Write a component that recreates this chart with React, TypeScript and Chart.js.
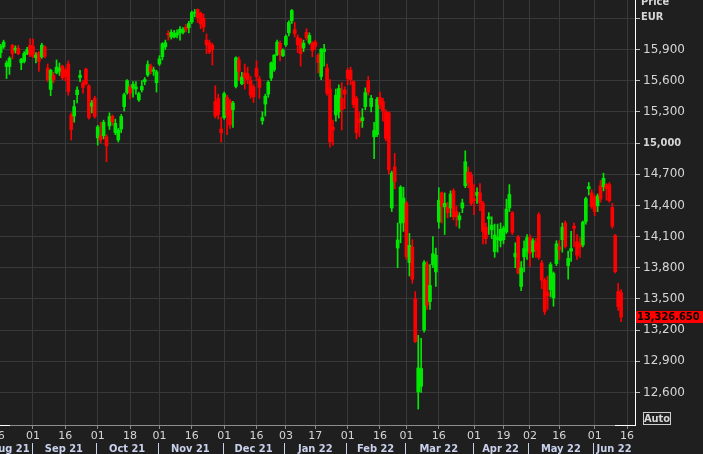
import React, { useEffect, useRef } from "react";
import { Chart, registerables } from "chart.js";
Chart.register(...registerables);

// ---------- data ----------
const FIRST_DAY = "2021-08-16";
const AXIS_LAST_DAY = "2022-06-17";
const HOLIDAYS = ["2021-12-24", "2021-12-31", "2022-04-15", "2022-04-18"];
const MONTHS = ["Jan", "Feb", "Mar", "Apr", "May", "Jun", "Jul", "Aug", "Sep", "Oct", "Nov", "Dec"];

const open = [
  // Aug 21
  15900, 15870, 15925, 15735, 15735, 15940, 15895, 15912, 15772, 15785, 15860, 15940,
  // Sep 21
  15930, 15820, 15870, 15830, 15925, 15720, 15515, 15650, 15675, 15690, 15740, 15700, 15760, 15270, 15260, 15465, 15630, 15580, 15710, 15550, 15355, 15430,
  // Oct 21
  15050, 15070, 15070, 15060, 15165, 15255, 15100, 15030, 15135, 15350, 15485, 15540, 15530, 15520, 15415, 15510, 15590, 15655, 15740, 15690, 15580,
  // Nov 21
  15760, 15830, 15925, 16055, 16020, 16020, 16040, 16060, 16065, 16115, 16110, 16165, 16250, 16285, 16250, 16200, 15990, 15965, 15940, 15400, 15430, 15135,
  // Dec 21
  15245, 15440, 15400, 15320, 15545, 15800, 15570, 15675, 15665, 15600, 15540, 15720, 15615, 15215, 15375, 15470, 15625, 15705, 15850, 15960, 15840,
  // Jan 22
  15945, 16060, 16175, 16090, 16015, 16000, 15915, 16065, 15965, 15960, 15970, 15845, 15640, 15880, 15720, 15520, 15150, 15270, 15300, 15430, 15510,
  // Feb 22
  15700, 15700, 15590, 15430, 15230, 15215, 15350, 15600, 15350, 15060, 15080, 15440, 15400, 15300, 15290, 14375, 14770, 13990, 14230, 14235,
  // Mar 22
  14420, 13850, 14000, 13500, 12605, 12660, 13200, 13830, 13475, 13830, 13760, 14240, 14520, 14385, 14385, 14375, 14540, 14340, 14260, 14375, 14590, 14720, 14690,
  // Apr 22
  14462, 14495, 14520, 14420, 14190, 14270, 14165, 13955, 14070, 14060, 14070, 14145, 14375, 14330, 13905, 14096, 13620, 13905, 13960,
  // May 22
  14090, 13955, 14040, 14310, 13845, 13680, 13560, 13590, 13510, 13840, 14000, 14070, 14230, 13820, 13960, 14200, 14050, 14030, 14020, 14245, 14560, 14520,
  // Jun 22
  14480, 14395, 14590, 14580, 14600, 14600, 14380, 14110, 13570, 13560,
];

const high = [
  15960, 15950, 15990, 15790, 15830, 15950, 15935, 15940, 15815, 15880, 15920, 16005,
  16000, 15870, 15880, 15960, 15935, 15760, 15710, 15680, 15800, 15770, 15750, 15720, 15790, 15290, 15410, 15540, 15700, 15600, 15720, 15560, 15410, 15450,
  15170, 15200, 15220, 15080, 15290, 15270, 15230, 15140, 15275, 15480, 15610, 15560, 15590, 15590, 15490, 15600, 15630, 15790, 15760, 15730, 15700,
  15840, 15965, 15990, 16080, 16090, 16085, 16090, 16120, 16110, 16140, 16170, 16270, 16285, 16290, 16260, 16240, 16050, 15990, 15960, 15550, 15470, 15250,
  15490, 15460, 15420, 15400, 15830, 15830, 15680, 15760, 15730, 15640, 15560, 15790, 15640, 15300, 15470, 15600, 15780, 15850, 15990, 15980, 15905,
  16040, 16175, 16285, 16160, 16040, 16010, 15990, 16100, 16060, 15975, 15990, 15860, 15910, 15950, 15760, 15610, 15220, 15520, 15560, 15580, 15540,
  15720, 15730, 15600, 15450, 15300, 15330, 15530, 15640, 15460, 15200, 15440, 15490, 15430, 15320, 15300, 14730, 14900, 14230, 14590, 14575,
  14440, 14130, 14070, 13570, 13150, 13120, 13870, 13860, 13830, 14100, 13990, 14570, 14530, 14520, 14430, 14540, 14560, 14390, 14330, 14460, 14925, 14770, 14720,
  14600, 14570, 14610, 14440, 14230, 14330, 14290, 14220, 14220, 14230, 14200, 14460, 14600, 14340, 14040, 14110, 13860, 14060, 14120,
  14120, 14080, 14080, 14330, 13870, 13700, 13720, 13850, 13760, 14060, 14060, 14230, 14250, 13960, 14150, 14230, 14120, 14090, 14250, 14480, 14620, 14550,
  14500, 14510, 14640, 14710, 14610, 14620, 14420, 14120, 13650, 13590,
];

const low = [
  15860, 15820, 15910, 15620, 15660, 15810, 15866, 15850, 15705, 15770, 15850, 15830,
  15820, 15770, 15690, 15815, 15820, 15590, 15455, 15580, 15665, 15650, 15610, 15600, 15460, 15030, 15200, 15385, 15590, 15480, 15560, 15230, 15290, 15240,
  14980, 15000, 15040, 14820, 15130, 15170, 15080, 15010, 15100, 15310, 15470, 15425, 15440, 15470, 15400, 15490, 15560, 15640, 15665, 15650, 15490,
  15745, 15800, 15900, 15990, 16000, 16010, 16010, 15990, 16050, 16070, 16060, 16150, 16215, 16160, 16100, 16070, 15860, 15860, 15750, 15240, 15230, 15010,
  15230, 15080, 15140, 15150, 15530, 15600, 15560, 15520, 15570, 15430, 15390, 15600, 15430, 15180, 15260, 15440, 15600, 15690, 15840, 15790, 15830,
  15930, 16030, 16150, 16020, 15870, 15740, 15880, 15990, 15950, 15830, 15900, 15675, 15610, 15740, 15460, 14960, 14980, 15210, 15240, 15125, 15330,
  15560, 15560, 15340, 15040, 15060, 15150, 15320, 15460, 15300, 14850, 15060, 15330, 15210, 15020, 14700, 14340, 14560, 13800, 14040, 14150,
  13880, 13720, 13650, 13080, 12440, 12600, 13180, 13400, 13400, 13800, 13620, 14180, 14230, 14120, 14280, 14290, 14260, 14200, 14180, 14330, 14570, 14570, 14400,
  14310, 14420, 14350, 14030, 14030, 14120, 14080, 13900, 13950, 14000, 14030, 14130, 14340, 14120, 13800, 13740, 13580, 13760, 13880,
  13810, 13900, 13900, 13880, 13600, 13350, 13400, 13520, 13430, 13820, 13880, 13950, 13990, 13690, 13860, 14000, 13880, 13900, 14000, 14220, 14500, 14370,
  14300, 14340, 14430, 14540, 14450, 14430, 14180, 13750, 13390, 13280,
];

const close = [
  15925, 15930, 15970, 15770, 15815, 15860, 15912, 15860, 15806, 15862, 15900, 15850,
  15835, 15845, 15785, 15940, 15835, 15610, 15700, 15610, 15730, 15720, 15630, 15640, 15495, 15130, 15350, 15510, 15650, 15535, 15570, 15245, 15385, 15255,
  15155, 15030, 15200, 14975, 15255, 15205, 15190, 15125, 15255, 15465, 15600, 15480, 15565, 15540, 15475, 15545, 15610, 15755, 15690, 15705, 15685,
  15810, 15955, 15965, 16040, 16065, 16055, 16060, 16095, 16090, 16095, 16150, 16255, 16260, 16205, 16145, 16115, 15945, 15875, 15900, 15260, 15275, 15100,
  15475, 15265, 15175, 15385, 15820, 15690, 15635, 15630, 15610, 15460, 15445, 15640, 15535, 15245, 15450, 15585, 15770, 15845, 15970, 15850, 15895,
  16025, 16160, 16275, 16050, 15945, 15860, 15960, 16010, 16035, 15890, 15930, 15775, 15900, 15905, 15480, 15010, 15125, 15460, 15525, 15320, 15470,
  15620, 15610, 15370, 15100, 15200, 15245, 15485, 15490, 15430, 15120, 15420, 15370, 15310, 15045, 14740, 14712, 14630, 14067, 14575, 14470,
  13905, 14015, 13690, 13090, 12836, 12830, 13850, 13440, 13630, 13935, 13920, 14450, 14390, 14420, 14330, 14510, 14290, 14290, 14300, 14425, 14820, 14615, 14420,
  14445, 14525, 14425, 14150, 14080, 14290, 14210, 14115, 14095, 14170, 14180, 14365, 14505, 14140, 13940, 13750, 13800, 13985, 14090,
  13940, 14060, 13975, 13900, 13680, 13380, 13530, 13830, 13745, 14030, 13975, 14190, 14005, 13890, 13985, 14180, 13920, 14000, 14240, 14465, 14580, 14390,
  14340, 14490, 14460, 14660, 14560, 14445, 14200, 13762, 13427, 13326.65,
];

const yTickValues = [12600, 12900, 13200, 13500, 13800, 14100, 14400, 14700, 15000, 15300, 15600, 15900, 16200];
const yBoldTick = 15000;
const yHiddenTick = 16200;
const yMin = 12287;
const yMax = 16376;
const headerLines = ["Price", "EUR"];
const autoLabel = "Auto";

// ---------- style ----------
const BG = "#1f1f1f";
const GRID = "#393939";
const UP = "#00e800";
const DOWN = "#ff0000";
const TEXT = "#d6d6d6";
const MONTH_TEXT = "#c9d1ec";
const REG_FONT = "'DejaVu Sans', sans-serif";
const BOLD_FONT = "'DejaVu Sans Condensed', 'DejaVu Sans', sans-serif";

function tradingDays(start: string, end: string): string[] {
  const out: string[] = [];
  const d = new Date(start + "T00:00:00Z");
  const e = new Date(end + "T00:00:00Z");
  while (d <= e) {
    const wd = d.getUTCDay();
    const s = d.toISOString().slice(0, 10);
    if (wd !== 0 && wd !== 6 && !HOLIDAYS.includes(s)) out.push(s);
    d.setUTCDate(d.getUTCDate() + 1);
  }
  return out;
}

const axisDays = tradingDays(FIRST_DAY, AXIS_LAST_DAY);

// day ticks: first trading day >= 1st and >= 16th of each month
const dayTicks: { i: number; label: string }[] = [];
const monthStarts: { i: number; label: string }[] = [];
{
  const seen = new Set<string>();
  axisDays.forEach((s, i) => {
    const ym = s.slice(0, 7);
    const day = +s.slice(8, 10);
    const key = ym + (day >= 16 ? "b" : "a");
    if (!seen.has(key)) {
      seen.add(key);
      dayTicks.push({ i, label: s.slice(8, 10) });
    }
    if (!seen.has("m" + ym)) {
      seen.add("m" + ym);
      const m = +s.slice(5, 7) - 1;
      monthStarts.push({ i: day < 16 ? i : -999, label: MONTHS[m] + " " + s.slice(2, 4) });
    }
  });
}

const X_MIN = 0.778;
const X_MAX = 216.72;

const overlay = {
  id: "overlay",
  beforeDraw(chart: any) {
    const c = chart.ctx;
    c.save();
    c.fillStyle = BG;
    c.fillRect(0, 0, chart.width, chart.height);
    c.restore();
  },
  afterDraw(chart: any) {
    const c = chart.ctx;
    const xs = chart.scales.x;
    const ys = chart.scales.y;
    const a = chart.chartArea;
    c.save();
    // day tick labels
    c.font = "11px " + REG_FONT;
    c.fillStyle = TEXT;
    c.textAlign = "center";
    c.textBaseline = "middle";
    dayTicks.forEach((t) => c.fillText(t.label, xs.getPixelForValue(t.i), 436));
    // month labels with separators
    c.font = "bold 11px " + BOLD_FONT;
    c.fillStyle = MONTH_TEXT;
    c.strokeStyle = MONTH_TEXT;
    c.lineWidth = 1;
    monthStarts.forEach((m, k) => {
      const startPx = m.i >= 0 ? xs.getPixelForValue(m.i - 0.5) : a.left - 4;
      const next = monthStarts[k + 1];
      const endPx = next ? xs.getPixelForValue(next.i - 0.5) : a.right;
      if (m.i >= 0) {
        const sx = Math.round(startPx) + 0.5;
        c.beginPath();
        c.moveTo(sx, 443);
        c.lineTo(sx, 454);
        c.stroke();
      }
      const w = c.measureText(m.label).width;
      let cx = (startPx + endPx) / 2;
      if (cx + w / 2 > endPx - 2) cx = endPx - 2 - w / 2;
      c.fillText(m.label, cx, 449);
    });
    // bottom axis white range markers
    c.strokeStyle = "#ffffff";
    c.beginPath();
    c.moveTo(0, a.bottom + 0.5);
    c.lineTo(10, a.bottom + 0.5);
    c.moveTo(615, a.bottom + 0.5);
    c.lineTo(a.right, a.bottom + 0.5);
    c.stroke();
    // header
    c.font = "bold 11px " + BOLD_FONT;
    c.fillStyle = TEXT;
    c.textAlign = "left";
    c.textBaseline = "alphabetic";
    c.fillText(headerLines[0], 641, 4.5);
    c.fillText(headerLines[1], 641, 19.5);
    // last price label
    const last = close[close.length - 1];
    const py = ys.getPixelForValue(last);
    c.fillStyle = DOWN;
    c.fillRect(a.right + 1, Math.round(py) - 6, chart.width - a.right - 1, 12);
    c.fillStyle = "#000000";
    c.textBaseline = "middle";
    c.fillText(
      last.toLocaleString("en-US", { minimumFractionDigits: 3, maximumFractionDigits: 3 }),
      a.right + 2,
      Math.round(py) + 0.5
    );
    // Auto box
    c.strokeStyle = "#cfcfcf";
    c.strokeRect(643.5, 412.5, 27, 12);
    c.fillStyle = TEXT;
    c.textAlign = "center";
    c.fillText(autoLabel, 657, 419);
    c.restore();
  },
};

export default function App() {
  const ref = useRef<HTMLCanvasElement | null>(null);
  useEffect(() => {
    const canvas = ref.current!;
    const colorFor = (i: number) => (close[i] >= open[i] ? UP : DOWN);
    const bodies = open.map((o, i) => ({ x: i, y: [o, close[i]] }));
    const wicks = open.map((_, i) => ({ x: i, y: [low[i], high[i]] }));
    const chart = new Chart(canvas, {
      type: "bar",
      data: {
        datasets: [
          {
            data: bodies as any,
            barThickness: 3,
            grouped: false,
            order: 0,
            borderWidth: 0,
            backgroundColor: (ctx: any) => colorFor(ctx.dataIndex),
          } as any,
          {
            data: wicks as any,
            barThickness: 1,
            grouped: false,
            order: 1,
            borderWidth: 0,
            backgroundColor: (ctx: any) => colorFor(ctx.dataIndex),
          } as any,
        ],
      },
      options: {
        animation: false,
        responsive: false,
        devicePixelRatio: 1,
        layout: { padding: 0 },
        plugins: { legend: { display: false }, tooltip: { enabled: false } },
        scales: {
          x: {
            type: "linear",
            min: X_MIN,
            max: X_MAX,
            offset: false,
            afterBuildTicks: (s: any) => {
              s.ticks = dayTicks.map((t) => ({ value: t.i }));
            },
            afterFit: (s: any) => {
              s.height = 29;
              s.paddingLeft = 0;
              s.paddingRight = 0;
            },
            ticks: { display: false, autoSkip: false },
            grid: { color: GRID, offset: false, drawTicks: true, tickLength: 4, tickColor: "#8c8c8c" },
            border: { color: "#8c8c8c" },
          },
          y: {
            type: "linear",
            position: "right",
            min: yMin,
            max: yMax,
            afterBuildTicks: (s: any) => {
              s.ticks = yTickValues.map((v) => ({ value: v }));
            },
            afterFit: (s: any) => {
              s.width = 68;
              s.paddingTop = 0;
              s.paddingBottom = 0;
            },
            ticks: {
              autoSkip: false,
              padding: 3,
              color: TEXT,
              font: (ctx: any) =>
                ctx.tick && ctx.tick.value === yBoldTick
                  ? { family: BOLD_FONT, size: 11, weight: "bold" }
                  : { family: REG_FONT, size: 12 },
              callback: (v: any) => (v === yHiddenTick ? "" : Number(v).toLocaleString("en-US")),
            },
            grid: { color: GRID, drawTicks: true, tickLength: 5, tickColor: "#bdbdbd" },
            border: { color: "#ffffff" },
          },
        },
      } as any,
      plugins: [overlay],
    });
    return () => chart.destroy();
  }, []);
  return (
    <div style={{ position: "fixed", left: 0, top: 0, width: 703, height: 454, background: BG }}>
      <canvas ref={ref} width={703} height={454} style={{ display: "block", width: 703, height: 454 }} />
    </div>
  );
}
